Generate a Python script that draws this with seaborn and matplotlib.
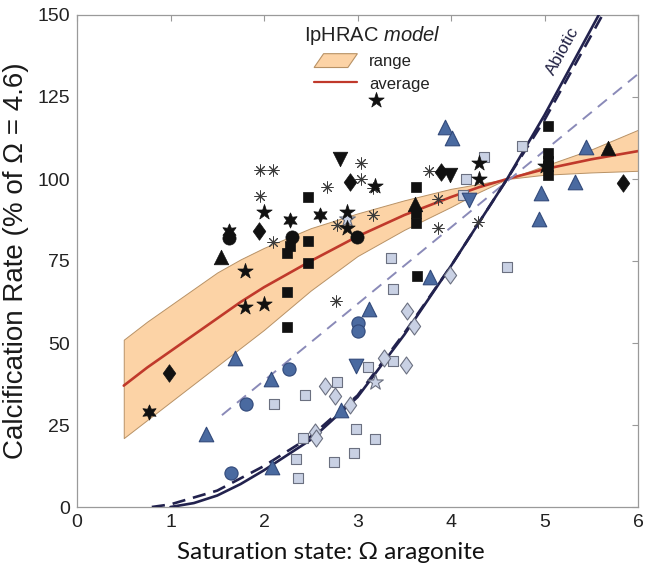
import numpy as np
import pandas as pd
import matplotlib
matplotlib.use("Agg")
import matplotlib.pyplot as plt
from matplotlib.path import Path
from matplotlib.patches import Polygon, Patch
from matplotlib.lines import Line2D
from matplotlib.legend_handler import HandlerPatch
import seaborn as sns

# ---------------- data ----------------
# IpHRAC model curves
model_omega = [0.5, 0.75, 1.0, 1.25, 1.5, 1.75, 2.0, 2.5, 3.0, 3.5, 4.0, 4.3, 4.6, 5.0, 5.5, 6.0]
model_avg   = [37, 42.5, 47.5, 52.5, 57.5, 62.5, 67, 75, 82.5, 89, 94.5, 97.5, 100, 103, 106, 108.5]
model_upper = [51, 56.5, 61.5, 66.5, 71.5, 75.5, 79, 85, 89.5, 93.5, 97, 98.5, 100, 104, 109, 115]
model_lower = [21, 26.5, 32, 37.5, 43, 48.5, 54, 66, 76.5, 84.5, 91.5, 96, 100, 101.3, 102, 102.5]

# Abiotic curves
abio_omega = [1.0, 1.25, 1.5, 1.75, 2.0, 2.5, 3.0, 3.5, 4.0, 4.6, 5.0, 5.58]
abio_rate  = [0, 1.2, 3.5, 7, 11.2, 20.5, 33.5, 52.5, 73.5, 100, 119.5, 150]
abio2_omega = [0.8, 1.0, 1.5, 2.0, 2.5, 3.0, 3.5, 4.0, 4.6, 5.0, 5.62]
abio2_rate  = [0, 0.8, 5, 12.5, 21.5, 34, 53, 73.5, 100, 118, 150]

# light dashed linear fit
lin_omega = [1.55, 6.0]
lin_rate  = [28, 132]

# black symbols
star_x = [3.2, 2.0, 1.80, 1.80, 2.0, 2.89, 2.89, 3.19, 4.30, 4.30, 5.0]
star_y = [124, 90, 72, 61, 62, 90, 85, 98, 105, 100, 104]
hexa_x = [0.77, 1.63, 2.28, 2.6]
hexa_y = [29, 84, 87.5, 89]
sq_x = [2.25, 2.25, 2.25, 2.47, 2.47, 2.47, 2.28, 3.63, 3.63, 3.63, 3.64,
        5.04, 5.04, 5.04, 5.04, 5.04]
sq_y = [77.3, 65.5, 55, 94.6, 81, 74.3, 79.5, 97.7, 89.7, 86.5, 70.5,
        116.3, 107.8, 105.5, 104, 101.2]
circ_x = [1.63, 2.3, 2.99]
circ_y = [82, 82.4, 82.2]
tri_x = [1.54, 3.62, 5.68]
tri_y = [76.3, 92.3, 109.4]
trid_x = [2.81, 3.99]
trid_y = [106, 101.2]
dia_x = [0.98, 1.95, 2.92, 3.89, 5.84]
dia_y = [41, 84.2, 99, 102.2, 98.7]
ast_x = [1.96, 2.10, 1.96, 2.10, 2.67, 2.78, 2.77, 3.04, 3.04, 3.17, 3.17,
         3.77, 3.86, 3.86, 4.29]
ast_y = [102.7, 102.7, 94.9, 80.9, 97.5, 86, 62.9, 105, 100, 97.2, 89,
         102.5, 93.8, 85.2, 87]

# blue symbols
btri_x = [1.38, 1.69, 2.08, 2.09, 2.82, 3.12, 3.78, 3.94, 4.01, 4.94, 4.96,
          5.33, 5.44]
btri_y = [22.3, 45.3, 38.9, 12.3, 29.6, 60.3, 70, 116, 112.6, 87.7, 95.8,
          99.2, 109.8]
btrid_x = [2.98, 4.19]
btrid_y = [43, 93.6]
bcirc_x = [1.65, 1.81, 2.27, 3.0, 3.01]
bcirc_y = [10.5, 31.4, 42, 56, 53.8]

# light symbols
lsq_x = [2.11, 2.44, 2.42, 2.34, 2.36, 2.78, 2.75, 2.98, 2.96, 3.19, 3.11,
         3.38, 3.36, 3.38, 4.13, 4.16, 4.35, 4.6, 4.76]
lsq_y = [31.4, 34.1, 20.9, 14.6, 8.7, 38.2, 13.6, 23.8, 16.4, 20.8, 42.8,
         44.5, 75.8, 66.4, 95.1, 100, 106.6, 73.3, 110]
ldia_x = [2.65, 2.76, 2.92, 2.55, 2.56, 3.28, 3.52, 3.53, 3.6, 3.99]
ldia_y = [37, 33.9, 31.1, 23, 20.9, 45.3, 43.3, 59.9, 55.3, 70.7]
lstar_x = [3.19, 2.89]
lstar_y = [38, 87.8]

x_ticks = [0, 1, 2, 3, 4, 5, 6]
y_ticks = [0, 25, 50, 75, 100, 125, 150]

# ---------------- styling ----------------
sns.set_theme(style="white")
plt.rcParams["font.family"] = ["Liberation Sans", "DejaVu Sans"]
plt.rcParams["mathtext.fontset"] = "custom"
plt.rcParams["mathtext.rm"] = "Liberation Sans"
plt.rcParams["mathtext.it"] = "Liberation Sans:italic"

BLACK = "#111111"
BLUE_F, BLUE_E = "#4a6aa0", "#31497a"
LIGHT_F, LIGHT_E = "#c9d1e4", "#6b7080"
ORANGE_F, ORANGE_E = "#fcd3a6", "#b89266"
RED = "#c0392b"
NAVY = "#22224e"
LAV = "#8a8ab8"

diamond = Path([(0, 1), (0.72, 0), (0, -1), (-0.72, 0), (0, 1)],
               [Path.MOVETO, Path.LINETO, Path.LINETO, Path.LINETO, Path.CLOSEPOLY])

fig = plt.figure(figsize=(6.45, 5.74), dpi=100)
ax = fig.add_axes([77 / 645, 1 - 507 / 574, (638 - 77) / 645, (507 - 15) / 574])

df_model = pd.DataFrame({"omega": model_omega, "avg": model_avg,
                         "up": model_upper, "lo": model_lower})
ax.fill_between(df_model["omega"], df_model["lo"], df_model["up"],
                facecolor=ORANGE_F, edgecolor=ORANGE_E, linewidth=0.7, zorder=1)
sns.lineplot(data=df_model, x="omega", y="avg", color=RED, linewidth=1.9,
             ax=ax, zorder=2)

sns.lineplot(x=lin_omega, y=lin_rate, color=LAV, linewidth=1.4, ax=ax,
             zorder=2).lines[-1].set_dashes([6, 4])
sns.lineplot(x=abio_omega, y=abio_rate, color=NAVY, linewidth=1.9, ax=ax, zorder=3)
l2 = sns.lineplot(x=abio2_omega, y=abio2_rate, color=NAVY, linewidth=1.9, ax=ax,
                  zorder=3).lines[-1]
l2.set_dashes([5, 3])


def pts(x, y, marker, s, face, edge, lw=0.8, z=4):
    sns.scatterplot(x=x, y=y, marker=marker, s=s, color=face, edgecolor=edge,
                    linewidth=lw, ax=ax, zorder=z, legend=False)


# light symbols
pts(lsq_x, lsq_y, "s", 60, LIGHT_F, LIGHT_E)
pts(ldia_x, ldia_y, diamond, 150, LIGHT_F, LIGHT_E)
pts(lstar_x, lstar_y, "*", 140, LIGHT_F, LIGHT_E)
# blue symbols
pts(btri_x, btri_y, "^", 110, BLUE_F, BLUE_E)
pts(btrid_x, btrid_y, "v", 110, BLUE_F, BLUE_E)
pts(bcirc_x, bcirc_y, "o", 90, BLUE_F, BLUE_E)
# black symbols
ax.scatter(ast_x, ast_y, marker=(8, 2, 0), s=65, color="#3a3a3a",
           linewidths=0.7, zorder=4)
pts(star_x, star_y, "*", 135, BLACK, BLACK, 0.5)
pts(hexa_x, hexa_y, (6, 1, 0), 120, BLACK, BLACK, 0.5)
pts(sq_x, sq_y, "s", 60, BLACK, BLACK, 0.5)
pts(circ_x, circ_y, "o", 90, BLACK, BLACK, 0.5)
pts(tri_x, tri_y, "^", 110, BLACK, BLACK, 0.5)
pts(trid_x, trid_y, "v", 110, BLACK, BLACK, 0.5)
pts(dia_x, dia_y, diamond, 160, BLACK, BLACK, 0.5)

ax.text(5.19, 139, "Abiotic", rotation=61, fontsize=12.5, color="#222244",
        ha="center", va="center", zorder=5)

# axes
ax.set_xlim(0, 6)
ax.set_ylim(0, 150)
ax.set_xticks(x_ticks)
ax.set_yticks(y_ticks)
ax.set_xticklabels([str(v) for v in x_ticks])
ax.set_yticklabels([str(v) for v in y_ticks])
ax.tick_params(direction="in", top=True, right=True, length=4, width=0.8,
               color="#999999", labelsize=14, labelcolor="#222222", pad=5)
for sp in ax.spines.values():
    sp.set_visible(True)
    sp.set_color("#9a9a9a")
    sp.set_linewidth(0.9)

ax.set_ylabel("Calcification Rate (% of Ω = 4.6)", fontsize=20, color="#1a1a1a",
              labelpad=6)
ax.set_xlabel("Saturation state: Ω aragonite", fontsize=17.5, color="#111111",
              family=["Lato", "DejaVu Sans"], va="center")
ax.xaxis.set_label_coords(0.452, -0.092)


class HandlerPara(HandlerPatch):
    def create_artists(self, legend, orig_handle, xdescent, ydescent,
                       width, height, fontsize, trans):
        sk = 0.22 * width
        pts_ = [(-xdescent + sk, -ydescent + height), (-xdescent + width, -ydescent + height),
                (-xdescent + width - sk, -ydescent), (-xdescent, -ydescent)]
        p = Polygon(pts_, closed=True, facecolor=ORANGE_F, edgecolor=ORANGE_E,
                    linewidth=0.8, transform=trans)
        return [p]


h_range = Patch(facecolor=ORANGE_F, edgecolor=ORANGE_E)
h_avg = Line2D([], [], color=RED, linewidth=1.6)
leg = ax.legend([h_range, h_avg], ["range", "average"], loc="upper left",
                bbox_to_anchor=(0.386, 1.002), frameon=False, fontsize=12,
                title="IpHRAC $\\mathit{model}$", title_fontsize=14.5,
                handlelength=2.6, handleheight=0.9, handletextpad=0.7,
                labelspacing=0.4, borderpad=0.1,
                handler_map={Patch: HandlerPara()})
leg.get_title().set_color("#222222")
for t in leg.get_texts():
    t.set_color("#222222")

fig.savefig("out.png", dpi=100)
